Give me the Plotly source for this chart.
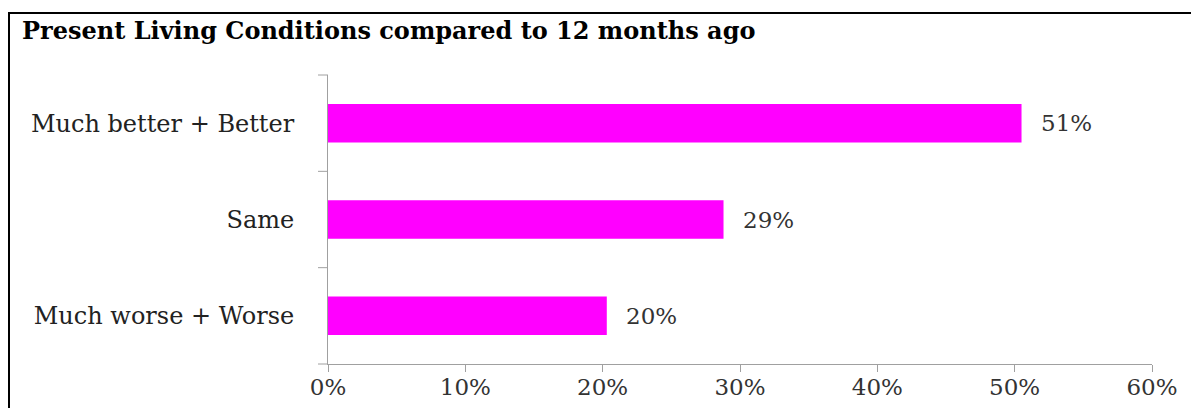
import plotly.graph_objects as go

categories = ["Much better + Better", "Same", "Much worse + Worse"]
values = [50.5, 28.8, 20.3]
value_labels = ["51%", "29%", "20%"]
x_ticks = [0, 10, 20, 30, 40, 50, 60]
x_tick_labels = ["0%", "10%", "20%", "30%", "40%", "50%", "60%"]
title = "Present Living Conditions compared to 12 months ago"

OFF = 8  # page body margin
W, H = 1199 - OFF, 408 - OFF
L, T = 328 - OFF, 75 - OFF
PR, PB = 1152 - OFF, 364 - OFF
R, B = W - PR, H - PB
pw, ph = PR - L, PB - T
FONT = "DejaVu Serif"

fig = go.Figure()
fig.add_trace(go.Bar(
    y=categories, x=values, orientation="h",
    marker=dict(color="#FF00FF", line=dict(width=0)),
    width=0.4, hoverinfo="skip",
))

for c, v, t in zip(categories, values, value_labels):
    fig.add_annotation(x=v, y=c, text=t, showarrow=False, xanchor="left",
                       xshift=17, font=dict(family=FONT, size=23, color="#333333"))

def px_x(p):
    return (p - OFF - L) / pw

def px_y(p):
    return (PB - (p - OFF)) / ph

fig.add_shape(type="rect", xref="paper", yref="paper",
              x0=px_x(9), x1=px_x(1192), y0=px_y(420), y1=px_y(13),
              line=dict(color="black", width=2), fillcolor="rgba(0,0,0,0)", layer="above")

fig.update_layout(
    width=W, height=H,
    margin=dict(l=L, r=R, t=T, b=B, pad=0, autoexpand=False),
    plot_bgcolor="white", paper_bgcolor="white",
    showlegend=False,
    title=dict(text="<b>" + title + "</b>", x=(22 - OFF) / W, xanchor="left",
               y=1 - (31 - OFF) / H, yanchor="middle",
               font=dict(family=FONT, size=24, color="black")),
    xaxis=dict(range=[0, 60], tickvals=x_ticks, ticktext=x_tick_labels, automargin=False,
               showgrid=False, zeroline=False, showline=True, linecolor="#A0A0A0", linewidth=1,
               ticks="outside", ticklen=7, tickcolor="#A0A0A0", ticklabelstandoff=-5,
               tickfont=dict(family=FONT, size=23, color="#333333")),
    yaxis=dict(categoryorder="array", categoryarray=categories[::-1], automargin=False,
               showgrid=False, zeroline=False, showline=True, linecolor="#A0A0A0", linewidth=1,
               ticks="", tickfont=dict(family=FONT, size=24, color="#222222"),
               ticklabelstandoff=28),
)

# category boundary tick marks on y-axis (between categories)
for i in range(len(categories) + 1):
    fig.add_shape(type="line", xref="paper", yref="paper",
                  x0=px_x(318), x1=0, y0=i / len(categories), y1=i / len(categories),
                  line=dict(color="#A0A0A0", width=1))

fig.write_html("out.html")
